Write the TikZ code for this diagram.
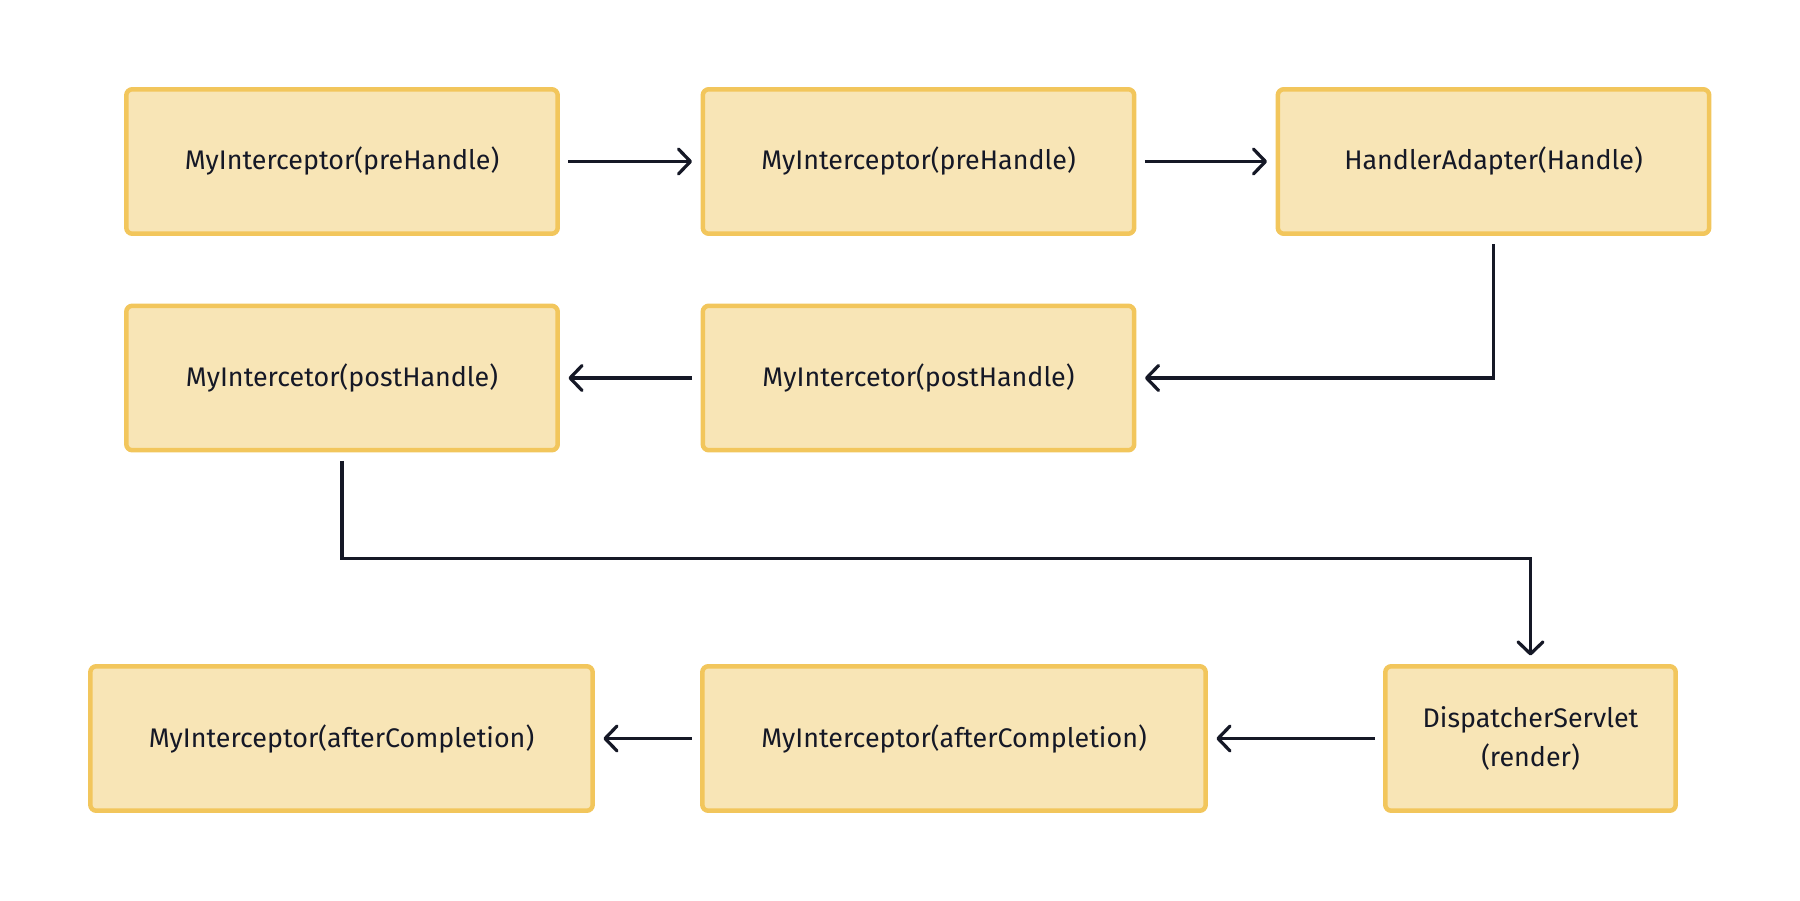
\documentclass[tikz,border=0pt]{standalone}
\usepackage{fontspec}
\setmainfont{Fira Sans}
\usetikzlibrary{arrows.meta}
\definecolor{boxfill}{HTML}{F8E5B6}
\definecolor{boxline}{HTML}{F2C65C}
\definecolor{ink}{HTML}{151826}
\tikzset{
  stagebox/.style={
    draw=boxline, fill=boxfill, line width=0.09cm, rounded corners=0.12cm,
    minimum width=8.63cm, minimum height=2.89cm, align=center,
    text=ink, font=\fontsize{15.3}{22}\selectfont
  },
  flow/.style={
    draw=ink, line width=0.065cm,
    -{Straight Barb[round, length=0.24cm, width=0.5cm]},
    shorten <=0.17cm, shorten >=0.17cm
  }
}

\begin{document}
\begin{tikzpicture}[x=0.02cm, y=-0.02cm]
\useasboundingbox (0,0) rectangle (1800,900);

% --- Row 1: preHandle ---
\node[stagebox] (pre1) at (342,161.5) {MyInterceptor(preHandle)};
\node[stagebox] (pre2) at (918.5,161.5) {MyInterceptor(preHandle)};
\node[stagebox] (handle) at (1493.5,161.5) {HandlerAdapter(Handle)};

% --- Row 2: postHandle ---
\node[stagebox] (post2) at (918.5,378) {MyIntercetor(postHandle)};
\node[stagebox] (post1) at (342,378) {MyIntercetor(postHandle)};

% --- Row 3: render and afterCompletion ---
\node[stagebox, minimum width=5.81cm] (render) at (1530.5,738.5) {DispatcherServlet\\(render)};
\node[stagebox, minimum width=10.07cm] (after2) at (954,738.5) {MyInterceptor(afterCompletion)};
\node[stagebox, minimum width=10.05cm] (after1) at (341.5,738.5) {MyInterceptor(afterCompletion)};

% --- Connectors ---
\draw[flow] (pre1) -- (pre2);
\draw[flow] (pre2) -- (handle);
\draw[flow] (handle.south) |- (post2.east);
\draw[flow] (post2) -- (post1);
\draw[flow] (post1.south) -- ++(0,106) -| (render.north);
\draw[flow] (render) -- (after2);
\draw[flow] (after2) -- (after1);

\end{tikzpicture}
\end{document}
